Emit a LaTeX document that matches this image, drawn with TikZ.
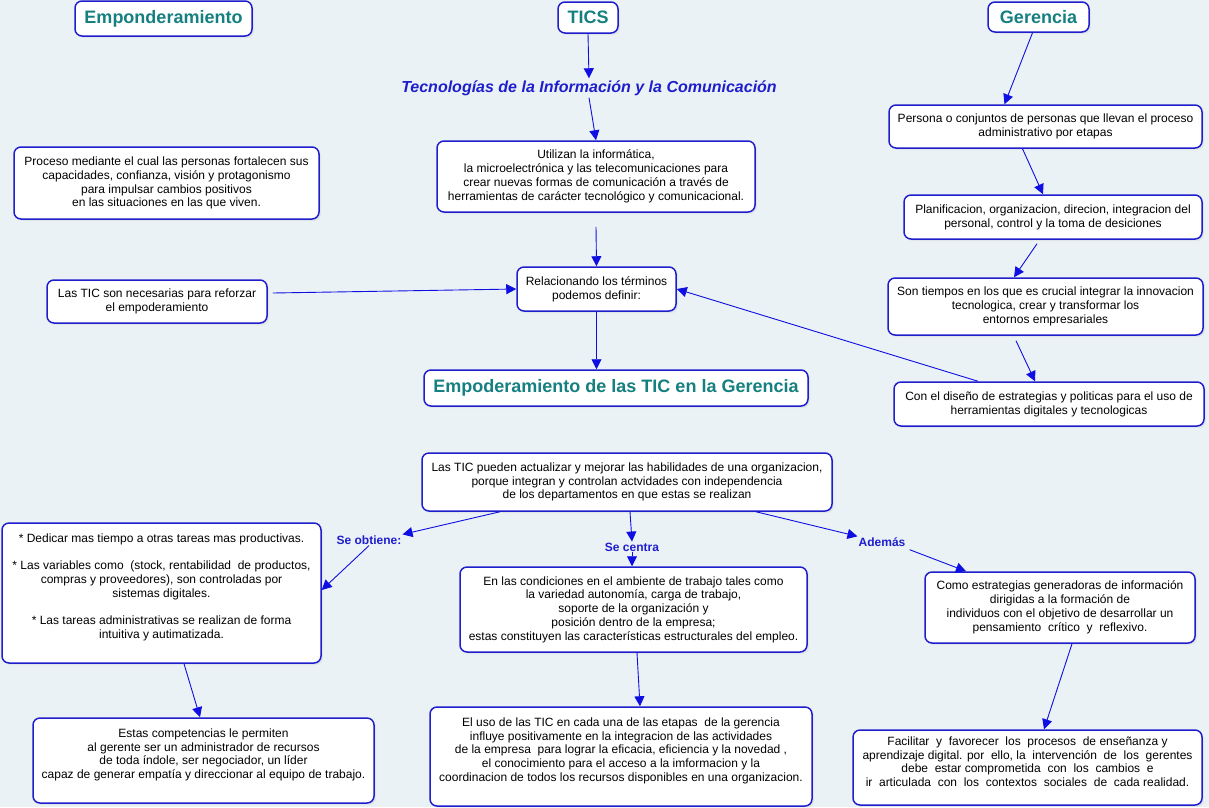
\documentclass[tikz,border=0pt]{standalone}
\usepackage{fontspec}
\setmainfont{Liberation Sans}
\usetikzlibrary{arrows.meta,shadows}
\definecolor{fondo}{RGB}{235,242,246}
\definecolor{borde}{RGB}{30,30,205}
\definecolor{flecha}{RGB}{15,15,225}
\definecolor{titulo}{RGB}{22,128,128}
\begin{document}
\begin{tikzpicture}[x=1pt,y=-1pt,
  caja/.style={draw=borde,line width=1.5pt,rounded corners=7pt,fill=white,
    align=center,inner sep=0pt,font=\fontsize{12}{13.8}\selectfont,
    drop shadow={opacity=0.10,shadow xshift=2pt,shadow yshift=-2pt}},
  tam/.style 2 args={minimum width=#1pt,minimum height=#2pt},
  tit/.style={caja,font=\fontsize{18}{21}\selectfont\bfseries,text=titulo},
  etiqueta/.style={font=\fontsize{12}{14}\selectfont\bfseries,text=borde,inner sep=1pt},
  arr/.style={draw=flecha,line width=0.9pt,-{Triangle[length=10pt,width=10pt]}}
]
\useasboundingbox[fill=fondo] (0,0) rectangle (1209,807);

\node[tit,tam={177}{35}] (emp) at (163.5,18.5) {Emponderamiento};
\node[tit,tam={60}{31}] (tics) at (588,17.5) {TICS};
\node[tit,tam={101}{30}] (ger) at (1038.5,17) {Gerencia};

\node[font=\fontsize{16}{18}\selectfont\bfseries\itshape,text=borde,inner sep=2pt] (tec) at (589,88)
  {Tecnologías de la Información y la Comunicación};

\node[caja,tam={305}{72}] (proc) at (166.5,183) {Proceso mediante el cual las personas fortalecen sus\\
  capacidades, confianza, visión y protagonismo\\ para impulsar cambios positivos\\
  en las situaciones en las que viven.};
\node[caja,tam={318}{71}] (util) at (596,176.5) {Utilizan la informática,\\
  la microelectrónica y las telecomunicaciones para\\
  crear nuevas formas de comunicación a través de\\
  herramientas de carácter tecnológico y comunicacional.};
\node[caja,tam={159}{44}] (rel) at (596.5,289) {Relacionando los términos\\ podemos definir:};
\node[caja,tam={220}{43}] (nec) at (157,301.5) {Las TIC son necesarias para reforzar\\ el empoderamiento};
\node[tit,tam={384}{36}] (emptic) at (616,388) {Empoderamiento de las TIC en la Gerencia};

\node[caja,tam={313}{43}] (pers) at (1045.5,126.5) {Persona o conjuntos de personas que llevan el proceso\\
  administrativo por etapas};
\node[caja,tam={298}{44}] (plan) at (1053,217) {Planificacion, organizacion, direcion, integracion del\\
  personal, control y la toma de desiciones};
\node[caja,tam={315}{57}] (son) at (1045.5,306.5) {Son tiempos en los que es crucial integrar la innovacion\\
  tecnologica, crear y transformar los\\ entornos empresariales};
\node[caja,tam={310}{44}] (con) at (1049,404) {Con el diseño de estrategias y politicas para el uso de\\
  herramientas digitales y tecnologicas};

\node[caja,tam={410}{58}] (tpued) at (627,482) {Las TIC pueden actualizar y mejorar las habilidades de una organizacion,\\
  porque integran y controlan actvidades con independencia\\
  de los departamentos en que estas se realizan};

\node[etiqueta] (obt) at (369,540) {Se obtiene:};
\node[etiqueta] (cen) at (632,547) {Se centra};
\node[etiqueta] (adem) at (882,542) {Además};

\node[caja,tam={319}{140}] (ded) at (161.5,593) {* Dedicar mas tiempo a otras tareas mas productivas.\\[13.8pt]
  * Las variables como~~(stock, rentabilidad~~de productos,\\
  compras y proveedores), son controladas por\\ sistemas digitales.\\[13.8pt]
  * Las tareas administrativas se realizan de forma\\ intuitiva y autimatizada.\\ \mbox{}};
\node[caja,tam={341}{85}] (estas) at (203.5,760.5) {Estas competencias le permiten\\
  al gerente ser un administrador de recursos\\ de toda índole, ser negociador, un líder\\
  capaz de generar empatía y direccionar al equipo de trabajo.\\ \mbox{}};
\node[caja,tam={347}{85}] (cond) at (633.5,609.5) {En las condiciones en el ambiente de trabajo tales como\\
  la variedad autonomía, carga de trabajo,\\ soporte de la organización y\\
  posición dentro de la empresa;\\
  estas constituyen las características estructurales del empleo.};
\node[caja,tam={382}{99}] (uso) at (621,756.5) {El uso de las TIC en cada una de las etapas~~de la gerencia\\
  influye positivamente en la integracion de las actividades\\
  de la empresa~~para lograr la eficacia, eficiencia y la novedad ,\\
  el conocimiento para el acceso a la imformacion y la\\
  coordinacion de todos los recursos disponibles en una organizacion.\\ \mbox{}};
\node[caja,tam={270}{71}] (como) at (1060,607.5) {Como estrategias generadoras de información\\
  dirigidas a la formación de\\ individuos con el objetivo de desarrollar un\\
  pensamiento~~crítico~~y~~reflexivo.};
\node[caja,tam={349}{75}] (fac) at (1027.5,767.5) {Facilitar~~y~~favorecer~~los~~procesos~~de enseñanza y\\
  aprendizaje digital. por~~ello, la~~intervención~~de~~los~~gerentes\\
  debe~~estar comprometida~~con~~los~~cambios~~e\\
  ir~~articulada~~con~~los~~contextos~~sociales~~de~~cada realidad.\\[-2pt] \mbox{}};

\draw[arr] (tics.south) -- (tec.north);
\draw[arr] (tec.south) -- (util.north);
\draw[arr] ([yshift=-14pt]util.south) -- (rel.north);
\draw[arr] ([xshift=5pt,yshift=8.5pt]nec.east) -- (rel.west);
\draw[arr] (rel.south) -- (rel.south |- emptic.north);
\draw[arr] ([xshift=-6pt]ger.south) -- ([xshift=-41pt]pers.north);
\draw[arr] ([xshift=-23pt]pers.south) -- ([xshift=-10pt]plan.north);
\draw[arr] ([xshift=-16pt,yshift=-4pt]plan.south) -- ([xshift=-31.5pt]son.north);
\draw[arr] ([xshift=-29.5pt,yshift=-5pt]son.south) -- ([xshift=-14pt]con.north);
\draw[arr] ([xshift=-71pt]con.north) -- (rel.east);

\draw[arr] ([xshift=-127pt]tpued.south) -- (obt.north east);
\draw[arr] (obt.south) -- ([yshift=3pt]ded.east);
\draw[arr] ([xshift=22.5pt]ded.south) -- ([xshift=-3.5pt]estas.north);
\draw[arr] ([xshift=3pt]tpued.south) -- (cen.north);
\draw[arr] (cen.south) -- (cen.south |- cond.north);
\draw[arr] ([xshift=3.5pt]cond.south) -- ([xshift=19pt]uso.north);
\draw[arr] ([xshift=129pt]tpued.south) -- (adem.north west);
\draw[arr] ([xshift=3pt,yshift=-2pt]adem.south east) -- ([xshift=-94pt]como.north);
\draw[arr] ([xshift=12pt]como.south) -- ([xshift=16.5pt]fac.north);
\end{tikzpicture}
\end{document}
